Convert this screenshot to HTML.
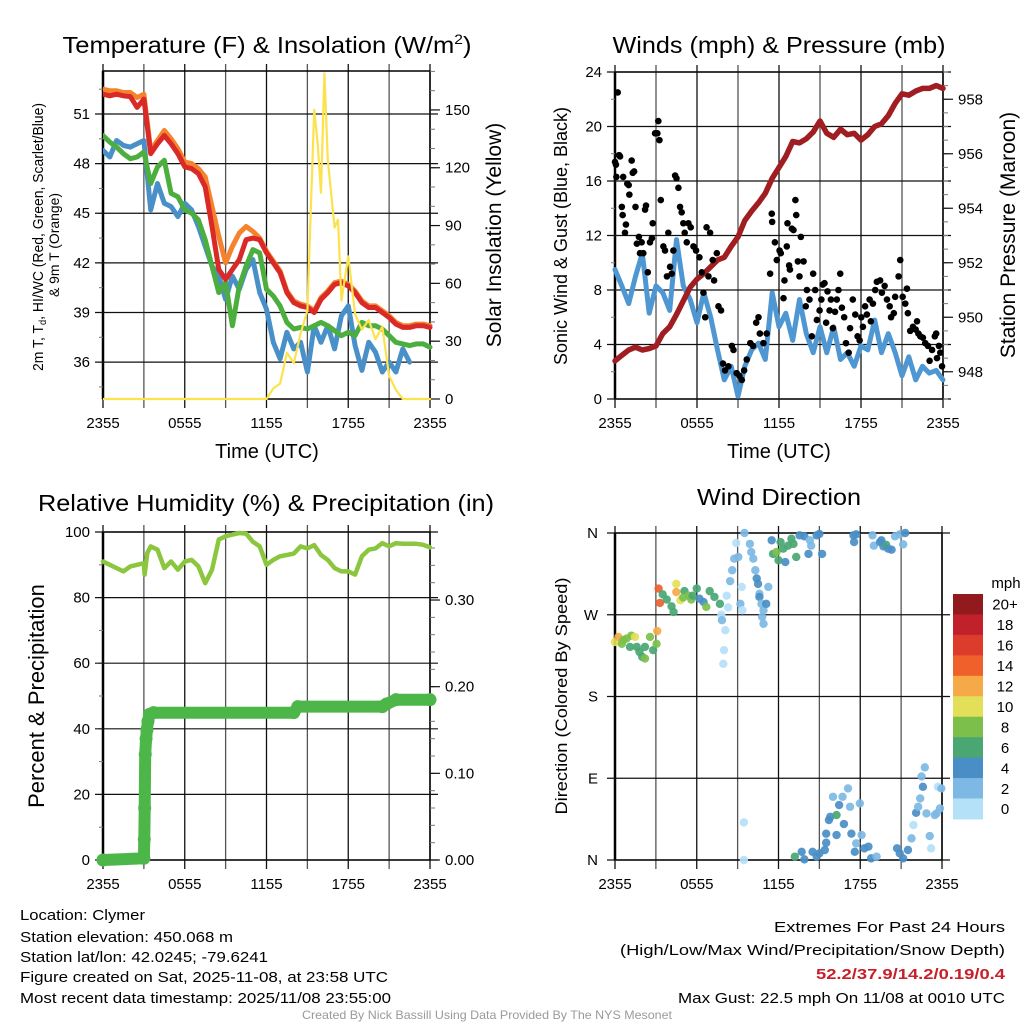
<!DOCTYPE html>
<html><head><meta charset="utf-8">
<style>
html,body{margin:0;padding:0;background:#fff;}
svg{display:block;font-family:"Liberation Sans",sans-serif;}
</style></head>
<body>
<svg id="fig" width="1024" height="1024" viewBox="0 0 1024 1024" xmlns="http://www.w3.org/2000/svg">
<rect width="1024" height="1024" fill="#fff"/>
<text x="267" y="53" font-size="23" text-anchor="middle" textLength="409" lengthAdjust="spacingAndGlyphs">Temperature (F) &amp; Insolation (W/m<tspan dy="-9" font-size="14">2</tspan><tspan dy="9">)</tspan></text>
<text x="779" y="53" font-size="23" text-anchor="middle" textLength="333" lengthAdjust="spacingAndGlyphs">Winds (mph) &amp; Pressure (mb)</text>
<text x="266" y="511" font-size="23" text-anchor="middle" textLength="456" lengthAdjust="spacingAndGlyphs">Relative Humidity (%) &amp; Precipitation (in)</text>
<text x="779" y="505" font-size="23" text-anchor="middle" textLength="164" lengthAdjust="spacingAndGlyphs">Wind Direction</text>

<text transform="translate(43,237) rotate(-90)" font-size="15" text-anchor="middle" textLength="268" lengthAdjust="spacingAndGlyphs">2m T, T<tspan font-size="10" dy="3">d</tspan><tspan dy="-3">, HI/WC (Red, Green, Scarlet/Blue)</tspan></text>
<text transform="translate(59,245) rotate(-90)" font-size="14" text-anchor="middle" textLength="104" lengthAdjust="spacingAndGlyphs">&amp; 9m T (Orange)</text>
<text transform="translate(501,235) rotate(-90)" font-size="21" text-anchor="middle">Solar Insolation (Yellow)</text>
<text x="267" y="458" font-size="20" text-anchor="middle">Time (UTC)</text>

<text transform="translate(567,236) rotate(-90)" font-size="18" text-anchor="middle" textLength="258" lengthAdjust="spacingAndGlyphs">Sonic Wind &amp; Gust (Blue, Black)</text>
<text transform="translate(1015,235) rotate(-90)" font-size="21" text-anchor="middle">Station Pressure (Maroon)</text>
<text x="779" y="458" font-size="20" text-anchor="middle">Time (UTC)</text>

<text transform="translate(44,696) rotate(-90)" font-size="22" text-anchor="middle">Percent &amp; Precipitation</text>
<text transform="translate(567,696) rotate(-90)" font-size="17" text-anchor="middle" textLength="237" lengthAdjust="spacingAndGlyphs">Direction (Colored By Speed)</text>

<g id="panels"></g>

<text x="1006" y="588" font-size="15" text-anchor="middle">mph</text>
<g id="cbar"></g>

<g font-size="15">
<text x="20" y="920" textLength="125" lengthAdjust="spacingAndGlyphs">Location: Clymer</text>
<text x="20" y="942" textLength="213" lengthAdjust="spacingAndGlyphs">Station elevation: 450.068 m</text>
<text x="20" y="962" textLength="248" lengthAdjust="spacingAndGlyphs">Station lat/lon: 42.0245; -79.6241</text>
<text x="20" y="982" textLength="368" lengthAdjust="spacingAndGlyphs">Figure created on Sat, 2025-11-08, at 23:58 UTC</text>
<text x="20" y="1003" textLength="371" lengthAdjust="spacingAndGlyphs">Most recent data timestamp: 2025/11/08 23:55:00</text>
</g>
<g font-size="15" text-anchor="end">
<text x="1005" y="932" textLength="231" lengthAdjust="spacingAndGlyphs">Extremes For Past 24 Hours</text>
<text x="1005" y="955" textLength="385" lengthAdjust="spacingAndGlyphs">(High/Low/Max Wind/Precipitation/Snow Depth)</text>
<text x="1005" y="979" fill="#c8202a" font-weight="bold" textLength="189" lengthAdjust="spacingAndGlyphs">52.2/37.9/14.2/0.19/0.4</text>
<text x="1005" y="1003" textLength="327" lengthAdjust="spacingAndGlyphs">Max Gust: 22.5 mph On 11/08 at 0010 UTC</text>
</g>
<text x="487" y="1019" font-size="12" fill="#9a9a9a" text-anchor="middle" textLength="370" lengthAdjust="spacingAndGlyphs">Created By Nick Bassill Using Data Provided By The NYS Mesonet</text>
</svg>
<script>
// ---------- data ----------
const xTickLabels = ["2355","0555","1155","1755","2355"];
const halfHours = [];
for (let i = 0; i <= 48; i++) halfHours.push(i / 2);

const tempTicks = [36,39,42,45,48,51];
const insolTicks = [0,30,60,90,120,150];
const tempRed = [52.2,52.1,52.2,52.1,52.05,51.4,51.9,48.6,49.2,49.7,49.2,48.6,47.8,47.7,47.4,46.6,44.2,41.6,41,41.6,42.2,43.4,43.5,43.4,42.6,42,41.4,40.2,39.6,39.4,39.3,39,39.8,40.2,40.7,40.8,40.6,40.2,39.6,39.3,39.3,39,38.7,38.3,38.1,38.1,38.2,38.2,38.1];
const tempOrange = [52.5,52.4,52.4,52.3,52.3,52.0,52.2,48.8,49.4,50.0,49.5,48.9,48.1,48.0,47.7,47.2,45.4,43.6,42.0,43.0,43.8,44.2,43.9,43.5,42.7,42.1,41.5,40.3,39.7,39.5,39.4,39.1,39.9,40.3,40.8,40.9,40.7,40.3,39.7,39.4,39.4,39.1,38.8,38.4,38.2,38.2,38.3,38.3,38.2];
const dewGreen = [49.7,49.3,49.0,48.6,48.3,48.4,48.7,46.8,47.8,48.2,46.2,46,45.2,45,44.6,43.4,41.8,40.2,40.8,38.2,40.6,41.8,42.8,42.6,40.4,40,39.4,38.4,38,38.1,38,38.2,38.4,38.2,37.9,37.6,37.8,37.6,38.4,38.2,38.2,38,37.6,37.2,37.1,37,37.1,37.1,36.9];
const windChillBlue = [48.8,48.4,49.4,49.1,49,49.2,49.4,45.2,46.8,45.6,45.4,44.8,45.6,45.2,44.2,43,41.8,41.2,39.8,41.2,40.4,41.6,42.2,40.2,39.2,37.2,36.2,37.8,36.8,37.2,35.4,38.2,37.2,38.2,36.8,38.8,39.4,37,35.5,37.2,36.6,35.4,36,35.4,36.8,36,null,null,null];
const insolHours = [0,12,12.5,13,13.5,14,14.5,15,15.25,15.5,15.75,16,16.25,16.5,17,17.25,17.5,18,18.5,19,19.5,20,20.5,21,21.5,22,24];
const insolValues = [0,0,5.5,8,24,18.5,34,46,98,150,133,107,169,124,89,93,51,74,44,36,41,31,37.5,12,4.7,0,0];

const windTicks = [0,4,8,12,16,20,24];
const presTicks = [948,950,952,954,956,958];
const windSpeed = [9.5,8.3,7,9,10.7,6.3,8.3,7.8,6.5,11.7,8.3,7.3,5.6,7.8,6,3.6,1.4,2.4,0.2,2.4,3.6,4.1,2.9,7.8,5.3,6.3,4.3,7.3,4.8,3.4,5.3,3.4,5.3,2.9,3.4,2.4,3.9,3.6,5.8,3.4,4.8,3.4,1.7,3.1,1.4,2.4,1.9,2.1,1.4];
const pressure = [948.4,948.6,948.8,948.9,948.8,948.85,948.95,949.4,949.65,950.1,950.6,951.1,951.4,951.6,951.85,952.1,952.2,952.6,952.95,953.55,953.9,954.2,954.55,955.1,955.5,955.9,956.45,956.4,956.55,956.8,957.2,956.75,956.6,956.9,956.7,956.75,956.5,956.7,957,957.1,957.4,957.85,958.2,958.15,958.3,958.4,958.4,958.5,958.4];
const gustHours = [0,0.07,0.2,0.1,0.3,0.37,0.6,0.5,0.56,0.73,0.8,0.9,1,1.05,1.22,1.3,1.4,1.5,1.6,1.75,1.83,1.95,2.07,2.2,2.27,2.4,2.56,2.7,2.76,2.93,3.1,3.17,3.25,3.35,3.54,3.66,3.8,3.9,4.03,4.15,4.27,4.4,4.5,4.64,4.76,4.88,5,5.1,5.25,5.37,5.54,5.74,5.93,6.18,6.35,6.47,6.6,6.7,6.84,6.96,7.15,7.25,7.45,7.57,7.76,7.9,8.05,8.3,8.55,8.67,8.9,9.1,9.28,9.45,9.64,9.9,10.1,10.33,10.5,10.6,10.86,11.1,11.35,11.47,11.5,11.7,11.84,12.04,12.13,12.33,12.4,12.57,12.62,12.74,12.8,12.94,13.06,13.2,13.26,13.38,13.5,13.6,13.8,13.96,14.04,14.23,14.4,14.5,14.65,14.77,14.97,15.1,15.2,15.33,15.45,15.55,15.7,15.8,15.94,16.1,16.23,16.35,16.48,16.6,16.77,16.9,17.1,17.2,17.4,17.58,17.75,17.9,18.02,18.14,18.3,18.43,18.63,18.72,18.87,19.04,19.16,19.4,19.53,19.73,19.9,20.1,20.2,20.4,20.5,20.75,20.87,21.05,21.24,21.36,21.43,21.6,21.8,22,22.1,22.2,22.34,22.53,22.7,22.9,23.02,23.2,23.4,23.5,23.56,23.7,23.8,23.93];
const gustValues = [17.4,17.2,22.5,16.3,17.9,17.8,16.3,14.1,13.5,12.2,12.8,15.8,15.7,15,17.5,16.6,16.7,14.1,11.4,11.9,10.7,11.5,10.7,13.9,14.2,9.3,11.5,11.8,12.9,19.5,19.5,20.4,19,14.6,11.2,10.9,9,12.2,9.7,9.2,10.9,16.4,16.2,15.5,14.1,13.7,12.9,12.2,11.5,12.9,12.6,11.2,10.9,10.4,9.3,7.8,6,12.6,9,12.2,10.2,8.7,10.7,6.8,6.5,2.6,2.1,2.4,3.9,3.6,1.9,1.7,1.4,2.1,2.9,4.1,3.9,5.6,6,4.8,4.1,4.8,9.2,13.6,13,11.5,10.2,10.9,10.7,7.4,8.7,11.2,12.9,9.8,9.5,12.5,12.4,14.6,13.5,10.1,9,11.9,10.1,6.8,8,7.3,4.6,9.2,8,5.8,6.5,7.3,8.4,8.5,5.6,7.9,6.5,7.3,5.2,6.4,7.3,8,9.2,6.7,6,4.1,3.4,5.2,7.3,6.2,4.6,4.3,6,5.3,6.8,6.2,7.3,5.7,7,8,8.6,8.7,7.8,8.3,7.3,6.8,6,6.3,7.5,9,10.2,7.5,7,8.1,6.3,5,5.3,5.1,5.7,4.8,4.6,4.5,4.1,3.9,2.8,3.6,4.6,4.8,3,3.9,3.4,2.4];

const rhTicks = [0,20,40,60,80,100];
const precipTicks = ["0.00","0.10","0.20","0.30"];
const precipTickValues = [0,0.1,0.2,0.3];
const rhHours = [0,0.5,1,1.5,2,2.5,3,3.05,3.25,3.5,4,4.5,5,5.5,6,6.5,7,7.5,8,8.5,9,9.5,10,10.5,11,11.5,12,12.5,13,13.5,14,14.5,15,15.5,16,16.5,17,17.5,18,18.5,19,19.5,20,20.5,21,21.5,22,22.5,23,23.5,24];
const rhValues = [91,90,89,88,89.5,90,90.5,87,93.6,95.6,94.6,89,91,88.5,91,91.5,89.5,84.4,88.5,97.7,98.7,99.2,99.7,99.5,97,95.6,90,91.5,92.6,93,93.4,95.6,95,96,93,91.5,89,88,88,87,92.6,94.6,95,96.6,95.6,96.6,96.4,96.4,96.4,96.1,95.3];
const precipHours = [0,3,3.03,3.06,3.1,3.16,3.22,3.3,3.4,3.7,14,14.3,20.5,20.8,21.5,24];
const precipValues = [0,0.002,0.024,0.06,0.122,0.14,0.15,0.16,0.168,0.17,0.17,0.177,0.177,0.18,0.185,0.185];

const dirTicks = ["N","E","S","W","N"];
const dirTickValues = [0,90,180,270,360];
const speedBins = ["0","2","4","6","8","10","12","14","16","18","20+"];
const dirHours = [0,0.25,0.5,0.85,1.2,1.47,1.6,1.8,2,2.2,2.57,2.8,3.05,3.1,1.1,2.2,0.6,
3.2,3.3,3.5,3.8,4.15,4.3,4.5,4.5,4.8,5.1,5.4,5.6,6,6.2,6.5,6.7,6.95,7.3,7.7,5,5.7,
7.8,7.85,8.1,8,7.95,8.2,8.3,8.45,8.6,8.75,8.9,9.05,9.3,9.2,9.35,9.46,9.46,9.5,9.9,10,10.15,10.3,10.4,10.5,10.6,10.6,10.75,10.9,10.8,10.9,11.1,11.25,
11.5,11.6,11.85,12,12.15,12.35,12.5,12.7,12.95,13.1,13.3,13.55,13.9,14.2,14.4,14.8,15,15.2,14.3,
17.5,17.55,17.7,18.9,19,19.45,19.7,19.9,20.05,20.3,20.55,20.9,21.3,21.15,19.55,
13.2,13.7,13.9,14.5,14.8,15,15.4,15.5,15.7,15.8,16,16.26,16.45,16.7,16.8,17.1,17.25,17.35,17.7,17.97,18.1,18.3,18.6,18.8,19.2,15.5,16.26,17.6,20.7,20.9,21.15,21.5,21.76,21.9,22.1,22.25,22.4,22.6,22.74,22.5,22.86,23.1,23.2,23.6,23.7,23.85,23.47,23.95];
const dirValues = [240,245.6,238,243.8,247,245.6,234.6,229,223.6,221.8,245.6,231,238,252,234.6,234.6,242,
298.8,283,292.5,286.7,279.3,273,304,295,286,296,291,286.7,298.8,287.7,284,278.6,296,289.6,282,288.9,291,
270,264,253,231,216,291,278,307,319,331.7,349,333.6,300.6,282,275,41.4,0,360,348,339,331.7,319,310,304,293,289.6,282,275,267.6,260,282,300.6,
352,337,339,330,350,342.7,328,346,353.7,348,333.6,357.4,356.3,337,346,357.4,359,337,352,
357.4,350,358.5,357.4,346,350,345.3,347,342.7,341.6,356.3,358.5,360,347.5,352,
3.7,9,0.7,9,3.7,7.3,11,29,44,47.6,69.6,49.5,60.5,69.6,39.6,78.8,58.6,29,18.3,62.3,27.5,12.8,14.7,1.8,3.7,19,27.5,9,12.8,7.3,1.8,11,23.8,38.5,52,58.6,67.8,80.6,102,92,51.3,26.4,12.8,51.3,80.6,56.8,49.5,78.8];
const dirSpeeds = [10,12,8,8,8,10,6,6,6,8,8,6,8,12,6,6,8,
14,14,6,6,6,6,10,12,10,6,8,8,6,4,4,8,6,6,6,8,6,
0,2,0,0,0,0,0,2,2,2,0,2,0,2,0,0,0,2,2,2,2,2,4,4,2,4,2,2,2,2,4,2,
4,6,8,6,6,6,4,6,6,6,6,4,4,4,2,4,4,4,2,
4,4,4,2,2,4,4,6,4,4,2,2,4,2,4,
6,4,4,4,4,4,4,4,4,4,2,6,4,2,4,2,2,4,2,2,2,4,4,4,2,4,4,4,4,4,4,4,2,0,4,2,2,4,2,2,2,2,0,2,0,2,2,2];

// ---------- helpers ----------
const NS = "http://www.w3.org/2000/svg";
const root = document.getElementById("panels");
function mk(tag, attrs, parent) {
  const e = document.createElementNS(NS, tag);
  for (const k in attrs) e.setAttribute(k, attrs[k]);
  (parent || root).appendChild(e);
  return e;
}
function lin(d0, d1, r0, r1) { return v => r0 + (v - d0) / (d1 - d0) * (r1 - r0); }
function pathFrom(xs, ys, sx, sy) {
  let d = "", pen = false;
  for (let i = 0; i < xs.length; i++) {
    if (ys[i] === null) { pen = false; continue; }
    d += (pen ? "L" : "M") + sx(xs[i]).toFixed(1) + "," + sy(ys[i]).toFixed(1);
    pen = true;
  }
  return d;
}
const speedColors = ["#b4e1f8","#7db9e4","#4a8ec6","#4aa673","#7cc04b","#e3df58","#f6a947","#ef602b","#dd3b2b","#c1212a","#921a1d"];

function frame(P, name) {
  const g = mk("g", {});
  
  
  const sx = lin(0, 24, P.L, P.R);
  for (let h = 0; h <= 24; h += 3) {
    const x = sx(h);
    const l = mk("line", {x1:x, x2:x, y1:P.T - 7, y2:P.B + 9, stroke:(h % 6 === 0 ? "#111" : "#555"), "stroke-width":1.3}, g);
    
    
  }
  if (P.xlabels) {
    xTickLabels.forEach((t, i) => {
      const tx = mk("text", {x:sx(i * 6), y:P.B + 29, "font-size":15, "text-anchor":"middle"}, g);
      tx.textContent = t;
      
      
    });
  }
  mk("rect", {x:P.L, y:P.T, width:P.R - P.L, height:P.B - P.T, fill:"none", stroke:"#000", "stroke-width":1.5}, g);
  mk("line", {x1:P.L, x2:P.L, y1:P.T, y2:P.B, stroke:"#000", "stroke-width":2.5}, g);
  return {g, sx};
}
function hgrid(P, g, ticks, sy, labels, labelX) {
  ticks.forEach((v, i) => {
    const y = sy(v);
    const l = mk("line", {x1:P.L - 8, x2:P.R + 8, y1:y, y2:y, stroke:"#111", "stroke-width":1.2}, g);
    
    
    const t = mk("text", {x:(labelX !== undefined ? labelX : P.L - 13), y:y + 5, "font-size":15, "text-anchor":"end"}, g);
    t.textContent = labels ? labels[i] : v;
    
    
  });
}
function rightTicks(P, g, vals, labels, sy, minorStep, dMin, dMax) {
  for (let v = dMin; v <= dMax + 1e-9; v += minorStep) {
    const y = sy(v);
    if (y < P.T - 0.5 || y > P.B + 0.5) continue;
    mk("line", {x1:P.R, x2:P.R + 5, y1:y, y2:y, stroke:"#777", "stroke-width":1}, g);
  }
  vals.forEach((v, i) => {
    const y = sy(v);
    mk("line", {x1:P.R, x2:P.R + 10, y1:y, y2:y, stroke:"#111", "stroke-width":1.2}, g);
    const t = mk("text", {x:P.R + 15, y:y + 5, "font-size":15}, g);
    t.textContent = labels[i];
    
    
  });
}
function leftMinor(P, g, step, d0, d1, sy) {
  for (let v = d0; v <= d1 + 1e-9; v += step) {
    const y = sy(v);
    if (y < P.T - 0.5 || y > P.B + 0.5) continue;
    mk("line", {x1:P.L - 4, x2:P.L, y1:y, y2:y, stroke:"#777", "stroke-width":1}, g);
  }
}
function line(xs, ys, sx, sy, color, w, name, g) {
  const p = mk("path", {d:pathFrom(xs, ys, sx, sy), fill:"none", stroke:color, "stroke-width":w, "stroke-linejoin":"round", "stroke-linecap":"round"}, g);
  
  
  return p;
}

// ---------- Panel 1: Temperature ----------
{
  const P = {L:103, R:430, T:71, B:399, xlabels:true};
  const {g, sx} = frame(P, "temperature");
  const sy = lin(33.77, 53.6, P.B, P.T);
  const sy2 = lin(0, 170.2, P.B, P.T);
  leftMinor(P, g, 1.5, 34.5, 53, sy);
  hgrid(P, g, tempTicks, sy);
  rightTicks(P, g, insolTicks, insolTicks, sy2, 10, 0, 170);
  const clip = mk("clipPath", {id:"c1"}, g);
  mk("rect", {x:P.L, y:P.T - 2, width:P.R - P.L + 3, height:P.B - P.T + 4}, clip);
  const dg = mk("g", {"clip-path":"url(#c1)"}, g);
  line(halfHours, windChillBlue, sx, sy, "#4a90c8", 5, "windchill-line", dg);
  line(halfHours, dewGreen, sx, sy, "#4cae3e", 5, "dewpoint-line", dg);
  line(halfHours, tempOrange, sx, sy, "#f5822c", 5, "temp-9m-line", dg);
  line(halfHours, tempRed, sx, sy, "#d92a27", 5, "temp-2m-line", dg);
  line(insolHours, insolValues, sx, sy2, "#fce24d", 2.2, "insolation-line", dg);
}
// ---------- Panel 2: Winds ----------
{
  const P = {L:615, R:943, T:72, B:399, xlabels:true};
  const {g, sx} = frame(P, "winds");
  const sy = lin(0, 24, P.B, P.T);
  const sy2 = lin(947, 959, P.B, P.T);
  leftMinor(P, g, 2, 0, 24, sy);
  hgrid(P, g, windTicks, sy);
  rightTicks(P, g, presTicks, presTicks, sy2, 0.5, 947, 959);
  line(halfHours, windSpeed, sx, sy, "#4f97d2", 5, "wind-speed-line", g);
  line(halfHours, pressure, sx, sy2, "#a01d22", 5.5, "pressure-line", g);
  gustHours.forEach((h, i) => {
    const c = mk("circle", {cx:sx(h), cy:sy(gustValues[i]), r:3.3, fill:"#000"}, g);
    
    
  });
}
// ---------- Panel 3: RH & Precip ----------
{
  const P = {L:103, R:430, T:532, B:860, xlabels:true};
  const {g, sx} = frame(P, "humidity");
  const sy = lin(0, 100, P.B, P.T);
  const sy2 = lin(0, 0.3785, P.B, P.T);
  leftMinor(P, g, 10, 0, 100, sy);
  hgrid(P, g, rhTicks, sy);
  rightTicks(P, g, precipTickValues, precipTicks, sy2, 0.02, 0, 0.37);
  line(rhHours, rhValues, sx, sy, "#8cc63f", 4.5, "humidity-line", g);
  let d = "";
  precipHours.forEach((h, i) => {
    d += (i === 0 ? "M" : "L") + sx(h).toFixed(1) + "," + sy2(precipValues[i]).toFixed(1);
  });
  const pp = mk("path", {d:d, fill:"none", stroke:"#4cb648", "stroke-width":12, "stroke-linejoin":"round", "stroke-linecap":"round"}, g);
  
  
  precipHours.forEach((h, i) => {
    const c = mk("circle", {cx:sx(h), cy:sy2(precipValues[i]), r:6.5, fill:"#4cb648"}, g);
    
    
  });
}
// ---------- Panel 4: Wind direction ----------
{
  const P = {L:615, R:942, T:533, B:860, xlabels:true};
  const {g, sx} = frame(P, "wind-direction");
  const sy = lin(0, 360, P.B, P.T);
  hgrid(P, g, dirTickValues, sy, dirTicks, P.L - 17);
  dirHours.forEach((h, i) => {
    const bin = Math.min(10, Math.floor(dirSpeeds[i] / 2));
    const c = mk("circle", {cx:sx(h), cy:sy(dirValues[i]), r:4.2, fill:speedColors[bin], "fill-opacity":0.92}, g);
    
    
  });
}
// ---------- Colorbar ----------
{
  const cb = document.getElementById("cbar");
  const top = 594, h = 20.45;
  for (let i = 0; i < speedBins.length; i++) {
    const idx = speedBins.length - 1 - i;
    const r = mk("rect", {x:953, y:top + i * h, width:30, height:h + 0.5, fill:speedColors[idx]}, cb);
    
    
    const t = mk("text", {x:1005, y:top + i * h + h / 2 + 5.5, "font-size":15, "text-anchor":"middle"}, cb);
    t.textContent = speedBins[idx];
    
    
  }
}
</script>
</body></html>
